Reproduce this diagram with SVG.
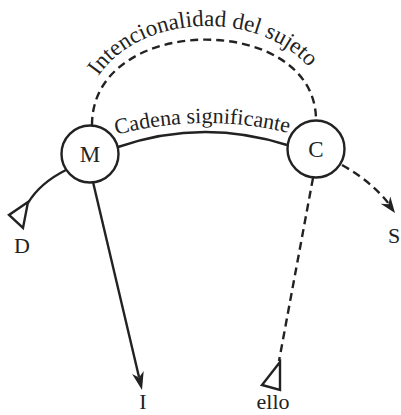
<svg xmlns="http://www.w3.org/2000/svg" width="401" height="415" viewBox="0 0 401 415">
<style>
.ln{fill:none;stroke:#222;stroke-width:2.4}
.dash{stroke-dasharray:8 5}
.node{fill:#fff;stroke:#222;stroke-width:2.4}
.t{font-family:"Liberation Serif","Times New Roman",serif;font-size:22px;fill:#222}
.big{font-size:23px}
.open{fill:#fff;stroke:#222;stroke-width:2.4;stroke-linejoin:miter}
.head{fill:#222}
</style>
<defs>
<path id="p1" d="M 82,134 C 80,-10 334,-10 332,134"/>
<path id="p2" d="M 112,136 Q 202,111 293,134"/>
</defs>
<rect width="401" height="415" fill="#fff"/>
<g id="connectors">
<path class="ln dash" d="M 92,125 C 92,12 316,12 316,120"/>
<path class="ln" d="M 118,147 Q 202,118 287,145"/>
<path class="ln" d="M 66,170 Q 40,183 28,203"/>
<polygon class="open" points="28,202 9,215 23,228"/>
<path class="ln" d="M 93,182 L 139,377"/>
<polygon class="head" points="142,390 132.1,373.9 139,377.4 143.7,371.1"/>
<path class="ln dash" d="M 313,178 L 279,361"/>
<polygon class="open" points="280,362 262,385 280,390"/>
<path class="ln dash" d="M 342,165 Q 372,182 389,204"/>
<polygon class="head" points="395,213 380.7,203.8 388.4,204.2 390.3,196.6"/>
</g>
<g id="label-intencionalidad">
<text class="t big"><textPath href="#p1" startOffset="48.5%" text-anchor="middle">Intencionalidad del sujeto</textPath></text>
</g>
<g id="label-cadena">
<text class="t"><textPath href="#p2" startOffset="50%" text-anchor="middle">Cadena significante</textPath></text>
</g>
<g id="node-M">
<circle class="node" cx="90" cy="154" r="28.5"/>
<text class="t big" x="90" y="162" text-anchor="middle">M</text>
</g>
<g id="node-C">
<circle class="node" cx="316" cy="149" r="28.5"/>
<text class="t big" x="316" y="157" text-anchor="middle">C</text>
</g>
<g id="node-D"><text class="t" x="22" y="253" text-anchor="middle">D</text></g>
<g id="node-I"><text class="t" x="143" y="409" text-anchor="middle">I</text></g>
<g id="node-ello"><text class="t" x="273" y="409" text-anchor="middle">ello</text></g>
<g id="node-S"><text class="t" x="388" y="243">S</text></g>
</svg>
